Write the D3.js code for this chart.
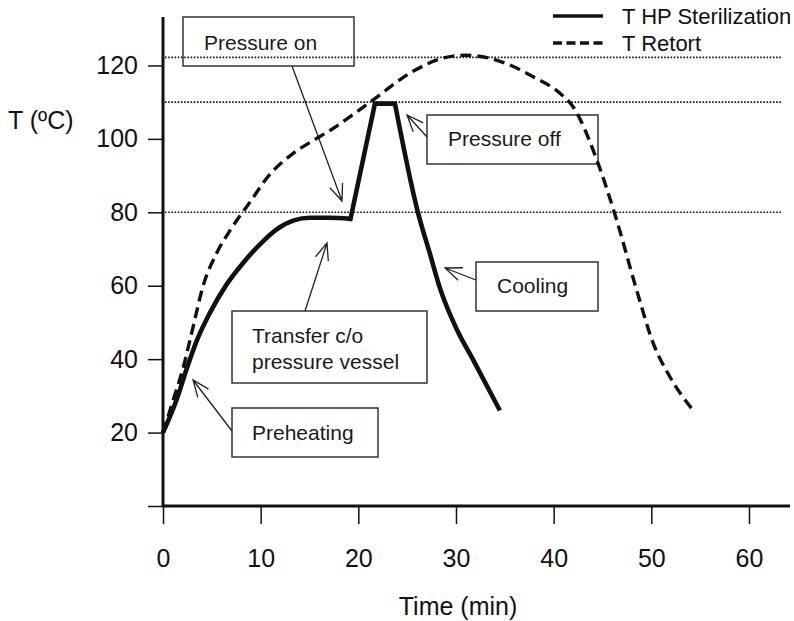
<!DOCTYPE html>
<html>
<head>
<meta charset="utf-8">
<script src="https://cdn.jsdelivr.net/npm/d3@7"></script>
<style>
  body { margin: 0; background: #fff; }
  svg { font-family: "Liberation Sans", Arial, sans-serif; }
</style>
</head>
<body>
<div id="chart"></div>
<script>
// values (time in min, temperature in ºC)
var hpTime = [0, 1.4, 2.4, 3.45, 4.8, 6.5, 8.2, 9.9, 11.6, 13.4, 15.05, 17.0, 19.2, 21.7, 23.75, 26.1, 27.3, 28.4, 30.1, 31.8, 34.5];
var hpTemp = [20, 29, 37.2, 45, 52.6, 60.3, 66.2, 71.2, 75.3, 77.8, 78.5, 78.5, 78.2, 109.6, 109.6, 80, 69, 59, 48, 39.6, 26];
// pressure on / off ramp goes straight between these indices
var hpRamp = [12, 14];

var retortTime = [0, 1.06, 2.1, 3.1, 4.1, 5.5, 6.9, 8.7, 11.0, 13.3, 15.4, 17.1, 21.2, 25.6, 28.4, 31.0, 34.2, 38.0, 40.7, 42.0, 44.4, 46.3, 48.5, 50.2, 51.9, 54.3];
var retortTemp = [20, 29, 38, 49, 59.9, 68.9, 75.2, 82, 90.5, 96, 99.6, 102.3, 110, 118.4, 121.8, 122.8, 121.4, 116.8, 112.3, 108.7, 94.4, 79.2, 58.8, 44.3, 35.2, 26];

var refLevels = [80, 110, 122.2];
var xTicks = [0, 10, 20, 30, 40, 50, 60];
var yTicks = [0, 20, 40, 60, 80, 100, 120];
var seriesNames = ["T HP Sterilization", "T Retort"];

var width = 794,
    height = 621;

var svg = d3.select("#chart")
    .append("svg")
    .attr("width", width)
    .attr("height", height);

var x = d3.scaleLinear().domain([0, 64.2]).range([163, 790]);
var y = d3.scaleLinear().domain([0, 133.2]).range([506, 17]);

var ink = "#111";

// dotted reference lines
svg.selectAll(".ref")
    .data(refLevels)
    .enter().append("line")
    .attr("class", "ref")
    .attr("x1", x(0.2))
    .attr("x2", 782)
    .attr("y1", function(d) { return y(d); })
    .attr("y2", function(d) { return y(d); })
    .attr("stroke", ink)
    .attr("stroke-width", 1.6)
    .attr("stroke-dasharray", "1.6,1.6");

// axes
var yAxis = d3.axisLeft(y)
    .tickValues(yTicks)
    .tickSize(15)
    .tickPadding(10)
    .tickFormat(function(d) { return d == 0 ? "" : d; });

var xAxis = d3.axisBottom(x)
    .tickValues(xTicks)
    .tickSize(18)
    .tickPadding(25);

var gy = svg.append("g")
    .attr("transform", "translate(" + x(0) + ",0)")
    .call(yAxis);
var gx = svg.append("g")
    .attr("transform", "translate(0," + y(0) + ")")
    .call(xAxis);

[gx, gy].forEach(function(g) {
    g.select(".domain").remove();
    g.selectAll("line").attr("stroke", ink).attr("stroke-width", 1.5);
    g.selectAll("text")
        .attr("fill", ink)
        .style("font-size", "25px")
        .style("font-family", "Liberation Sans, Arial, sans-serif");
});

svg.append("line")
    .attr("x1", x(0)).attr("x2", x(0))
    .attr("y1", y.range()[1]).attr("y2", y(0) + 1)
    .attr("stroke", ink).attr("stroke-width", 3);
svg.append("line")
    .attr("x1", x(0) - 1).attr("x2", x.range()[1])
    .attr("y1", y(0)).attr("y2", y(0))
    .attr("stroke", ink).attr("stroke-width", 3);

svg.append("text")
    .attr("x", 8)
    .attr("y", 120)
    .attr("dy", "0.35em")
    .attr("fill", ink)
    .style("font-size", "25px")
    .text("T (ºC)");

svg.append("text")
    .attr("x", 458)
    .attr("y", 606)
    .attr("dy", "0.35em")
    .attr("text-anchor", "middle")
    .attr("fill", ink)
    .style("font-size", "25px")
    .text("Time (min)");

// annotation boxes with arrows (pixel layout)
var notes = [
    {lines: ["Pressure on"], box: [183, 17, 171, 49], tx: 204, ty: [43], from: [292, 66], to: [342, 201]},
    {lines: ["Pressure off"], box: [427, 115, 171, 49], tx: 448, ty: [139], from: [427, 137], to: [407, 115]},
    {lines: ["Cooling"], box: [476, 262, 122, 49], tx: 497, ty: [286], from: [476, 280], to: [445, 268]},
    {lines: ["Transfer c/o", "pressure vessel"], box: [232, 311, 195, 72], tx: 252, ty: [336, 362], from: [305, 311], to: [327, 243]},
    {lines: ["Preheating"], box: [232, 408, 146, 49], tx: 252, ty: [433], from: [232, 431], to: [193, 380]}
];

var note = svg.selectAll(".note")
    .data(notes)
    .enter().append("g")
    .attr("class", "note");

note.append("rect")
    .attr("x", function(d) { return d.box[0]; })
    .attr("y", function(d) { return d.box[1]; })
    .attr("width", function(d) { return d.box[2]; })
    .attr("height", function(d) { return d.box[3]; })
    .attr("fill", "none")
    .attr("stroke", "#333")
    .attr("stroke-width", 1.5);

note.each(function(d) {
    var g = d3.select(this);
    d.lines.forEach(function(s, i) {
        g.append("text")
            .attr("x", d.tx)
            .attr("y", d.ty[i])
            .attr("dy", "0.35em")
            .attr("fill", "#1a1a1a")
            .style("font-size", "21px")
            .text(s);
    });
    var ang = Math.atan2(d.to[1] - d.from[1], d.to[0] - d.from[0]);
    var len = 18, spread = 22 * Math.PI / 180;
    var w1 = [d.to[0] - len * Math.cos(ang - spread), d.to[1] - len * Math.sin(ang - spread)];
    var w2 = [d.to[0] - len * Math.cos(ang + spread), d.to[1] - len * Math.sin(ang + spread)];
    g.append("path")
        .attr("d", "M" + d.from + "L" + d.to + "M" + w1 + "L" + d.to + "L" + w2)
        .attr("fill", "none")
        .attr("stroke", "#222")
        .attr("stroke-width", 1.3);
});

// curves
var hp = hpTime.map(function(t, i) { return [t, hpTemp[i]]; });
var retort = retortTime.map(function(t, i) { return [t, retortTemp[i]]; });

var smooth = d3.line()
    .x(function(d) { return x(d[0]); })
    .y(function(d) { return y(d[1]); })
    .curve(d3.curveMonotoneX);
var straight = d3.line()
    .x(function(d) { return x(d[0]); })
    .y(function(d) { return y(d[1]); });

var hpPath = smooth(hp.slice(0, hpRamp[0] + 1))
    + straight(hp.slice(hpRamp[0], hpRamp[1] + 1)).replace(/^M/, "L")
    + smooth(hp.slice(hpRamp[1])).replace(/^M/, "L");

svg.append("path")
    .attr("d", smooth(retort))
    .attr("fill", "none")
    .attr("stroke", ink)
    .attr("stroke-width", 3.4)
    .attr("stroke-dasharray", "11,6");

svg.append("path")
    .attr("d", hpPath)
    .attr("fill", "none")
    .attr("stroke", ink)
    .attr("stroke-width", 4.6)
    .attr("stroke-linejoin", "miter");

// legend
var legend = svg.selectAll(".legend")
    .data(seriesNames)
    .enter().append("g")
    .attr("class", "legend")
    .attr("transform", function(d, i) { return "translate(553," + (16 + i * 27) + ")"; });

legend.append("line")
    .attr("x1", 0).attr("x2", 50)
    .attr("stroke", ink)
    .attr("stroke-width", function(d, i) { return i == 0 ? 3.6 : 3.4; })
    .attr("stroke-dasharray", function(d, i) { return i == 0 ? null : "9,4.5"; });

legend.append("text")
    .attr("x", 69)
    .attr("dy", "0.35em")
    .attr("fill", ink)
    .style("font-size", "22px")
    .text(function(d) { return d; });
</script>
</body>
</html>
